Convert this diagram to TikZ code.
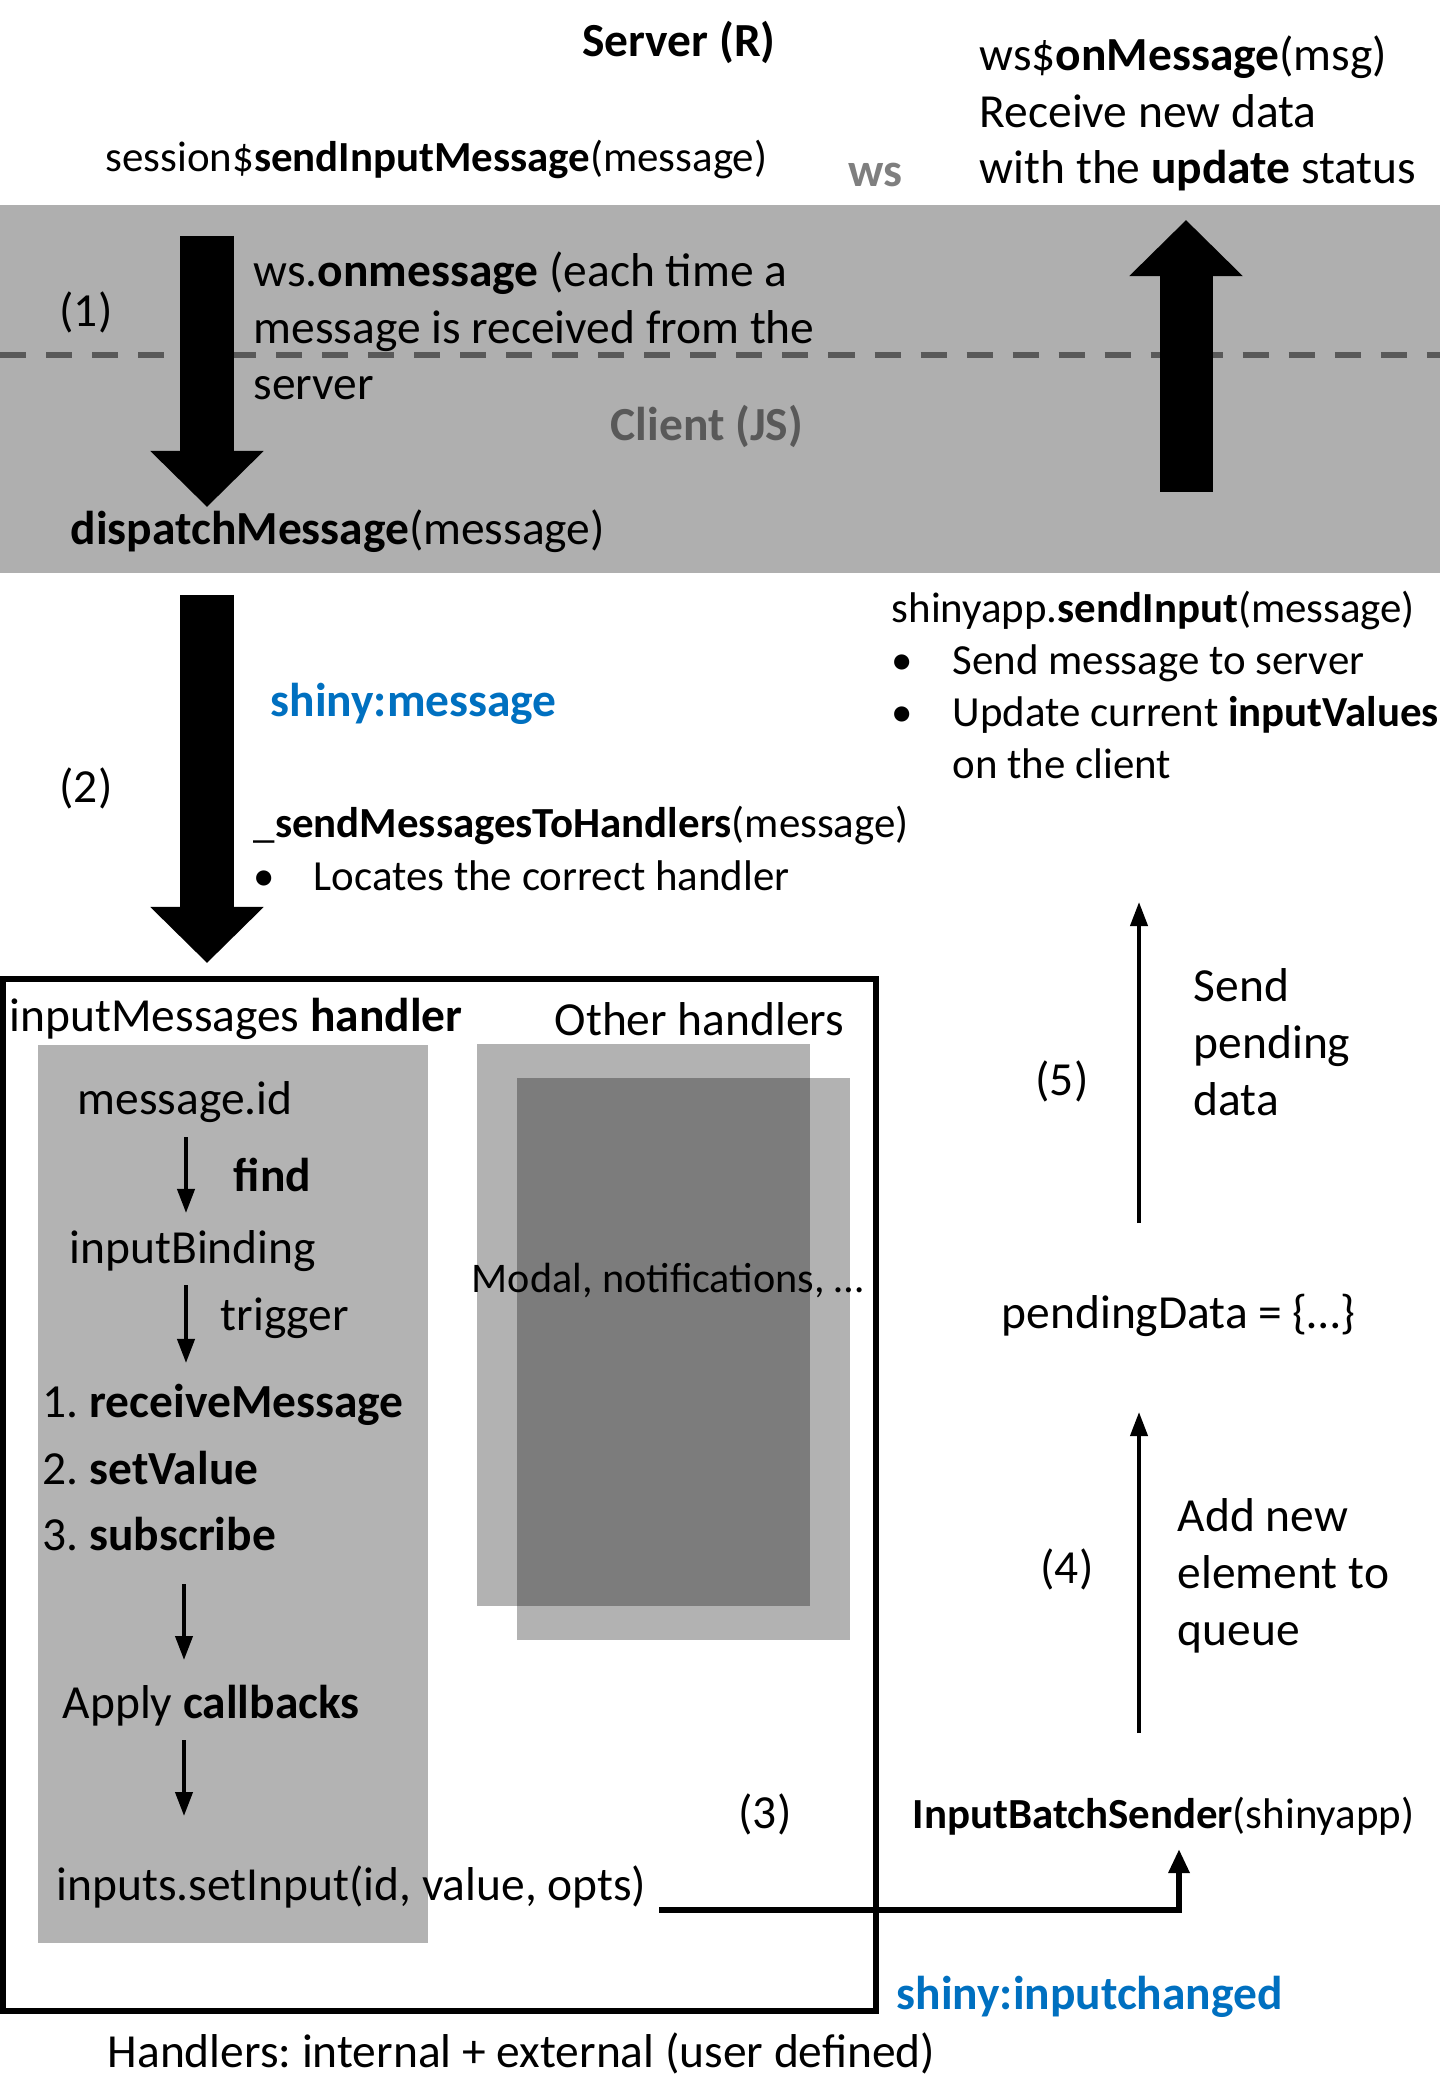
\documentclass[tikz,border=0pt]{standalone}
\usepackage{fontspec}
\setmainfont{Carlito}
\usepackage{xcolor}
\usepackage{tikz}
\usetikzlibrary{arrows.meta,positioning}
\frenchspacing
\definecolor{shinyblue}{HTML}{0070C0}
\definecolor{bandgray}{HTML}{AFAFAF}
\definecolor{colgray}{HTML}{B3B3B3}
\definecolor{wsgray}{HTML}{7F7F7F}
\definecolor{clientgray}{HTML}{595959}
\tikzset{
  ftxt/.style={inner sep=0pt, anchor=base west, align=left, font=\fontsize{13.5pt}{16.2pt}\selectfont},
  fsmall/.style={ftxt, font=\fontsize{12.2pt}{14.8pt}\selectfont},
  fnum/.style={inner sep=0pt, anchor=base, font=\fontsize{13.5pt}{16.2pt}\selectfont},
  bigarr/.style={-{Triangle[length=5.6mm,width=11mm]}, line width=5.3mm},
  farr/.style={-{Triangle[length=2.4mm,width=1.7mm]}, line width=0.4mm},
  elbarr/.style={-{Triangle[length=2.4mm,width=2mm]}, line width=0.65mm},
  sepline/.style={draw=clientgray, line width=0.55mm, dash pattern=on 2.6mm off 2mm},
  hframe/.style={draw=black, line width=0.6mm},
  hgray/.style={fill=black, fill opacity=0.3}
}
\begin{document}
\begin{tikzpicture}[x=0.01cm,y=-0.01cm]
\useasboundingbox (0,0) rectangle (1440,2080);
\fill[bandgray] (0,205) rectangle (1440,573);
\draw[sepline] (0,355) -- (1440,355);
\fill[colgray] (38,1045) rectangle (428,1943);
\fill[hgray] (477,1044) rectangle (810,1606);
\fill[hgray] (517,1078) rectangle (850,1640);
\draw[hframe] (3,979) rectangle (876,2011);

\node[fnum] (server) at (679,57) {\textbf{Server (R)}};
\node[fsmall] (sendmsg) at (105,172) {session\$\textbf{sendInputMessage}(message)};
\node[fnum, text=wsgray] (ws) at (875,187) {\textbf{ws}};
\node[ftxt] (onmsg) at (979,184) {ws\$\textbf{onMessage}(msg)\\Receive new data\\with the \textbf{update} status};
\node[fnum] (num1) at (86,327) {(1)};
\node[ftxt] (wsonmsg) at (253,400) {ws.\textbf{onmessage} (each time a\\message is received from the\\server};
\node[fnum, text=clientgray] (client) at (707,441) {\textbf{Client (JS)}};
\node[ftxt] (dispatch) at (70,545) {\textbf{dispatchMessage}(message)};

\node[fnum] (num2) at (86,803) {(2)};
\node[ftxt, text=shinyblue] (shinymsg) at (270,717) {\textbf{shiny:message}};
\node[fsmall] (tohandlers) at (253,890) {\_\textbf{sendMessagesToHandlers}(message)\\\makebox[0.60cm][l]{•}Locates the correct handler};
\node[fsmall] (sendinput) at (891,779) {shinyapp.\textbf{sendInput}(message)\\\makebox[0.61cm][l]{•}Send message to server\\\makebox[0.61cm][l]{•}Update current \textbf{inputValues}\\\hspace*{0.61cm}on the client};

\node[ftxt] (inhandler) at (9,1031) {inputMessages \textbf{handler}};
\node[ftxt] (other) at (554,1035) {Other handlers};
\node[ftxt, font=\fontsize{12pt}{14pt}\selectfont] (modal) at (471,1292) {Modal, notifications, …};
\node[ftxt] (msgid) at (77,1114) {message.id};
\node[ftxt] (find) at (233,1191) {\textbf{find}};
\node[ftxt] (binding) at (69,1263) {inputBinding};
\node[ftxt] (trigger) at (220,1330) {trigger};
\node[ftxt] (receive) at (42,1417) {1. \textbf{receiveMessage}};
\node[ftxt] (setvalue) at (42,1484) {2. \textbf{setValue}};
\node[ftxt] (subscribe) at (42,1550) {3. \textbf{subscribe}};
\node[ftxt] (callbacks) at (62,1718) {Apply \textbf{callbacks}};
\node[ftxt] (setinput) at (56,1900) {inputs.setInput(id, value, opts)};
\node[fnum] (num3) at (765,1828) {(3)};
\node[fsmall] (batch) at (912,1828) {\textbf{InputBatchSender}(shinyapp)};
\node[ftxt, text=shinyblue] (inputchanged) at (896,2009) {\textbf{shiny:inputchanged}};
\node[ftxt] (handlers) at (107,2067) {Handlers: internal + external (user defined)};

\node[fnum] (num5) at (1062,1095) {(5)};
\node[ftxt] (sendpending) at (1193,1115) {Send\\pending\\data};
\node[ftxt] (pending) at (1001,1328) {pendingData = \{…\}};
\node[fnum] (num4) at (1067,1583) {(4)};
\node[ftxt] (addnew) at (1177,1645) {Add new\\element to\\queue};

\coordinate (b1s) at (207,236);
\coordinate (b1e) at (207,507);
\coordinate (b2s) at (207,595);
\coordinate (b2e) at (207,963);
\coordinate (bus) at (1186,492);
\coordinate (bue) at (1186,220);
\coordinate (fs) at (186,1137);
\coordinate (fe) at (186,1213);
\coordinate (ts) at (186,1285);
\coordinate (te) at (186,1363);
\coordinate (ss) at (184,1584);
\coordinate (se) at (184,1660);
\coordinate (cs) at (184,1740);
\coordinate (ce) at (184,1816);
\coordinate (p5s) at (1139,1223);
\coordinate (p5e) at (1139,902);
\coordinate (p4s) at (1139,1733);
\coordinate (p4e) at (1139,1412);
\coordinate (es) at (659,1910);
\coordinate (ee) at (1179,1849);

\draw[bigarr] (b1s) -- (b1e);
\draw[bigarr] (b2s) -- (b2e);
\draw[bigarr] (bus) -- (bue);
\draw[farr] (fs) -- (fe);
\draw[farr] (ts) -- (te);
\draw[farr] (ss) -- (se);
\draw[farr] (cs) -- (ce);
\draw[farr] (p5s) -- (p5e);
\draw[farr] (p4s) -- (p4e);
\draw[elbarr] (es) -| (ee);
\end{tikzpicture}
\end{document}
